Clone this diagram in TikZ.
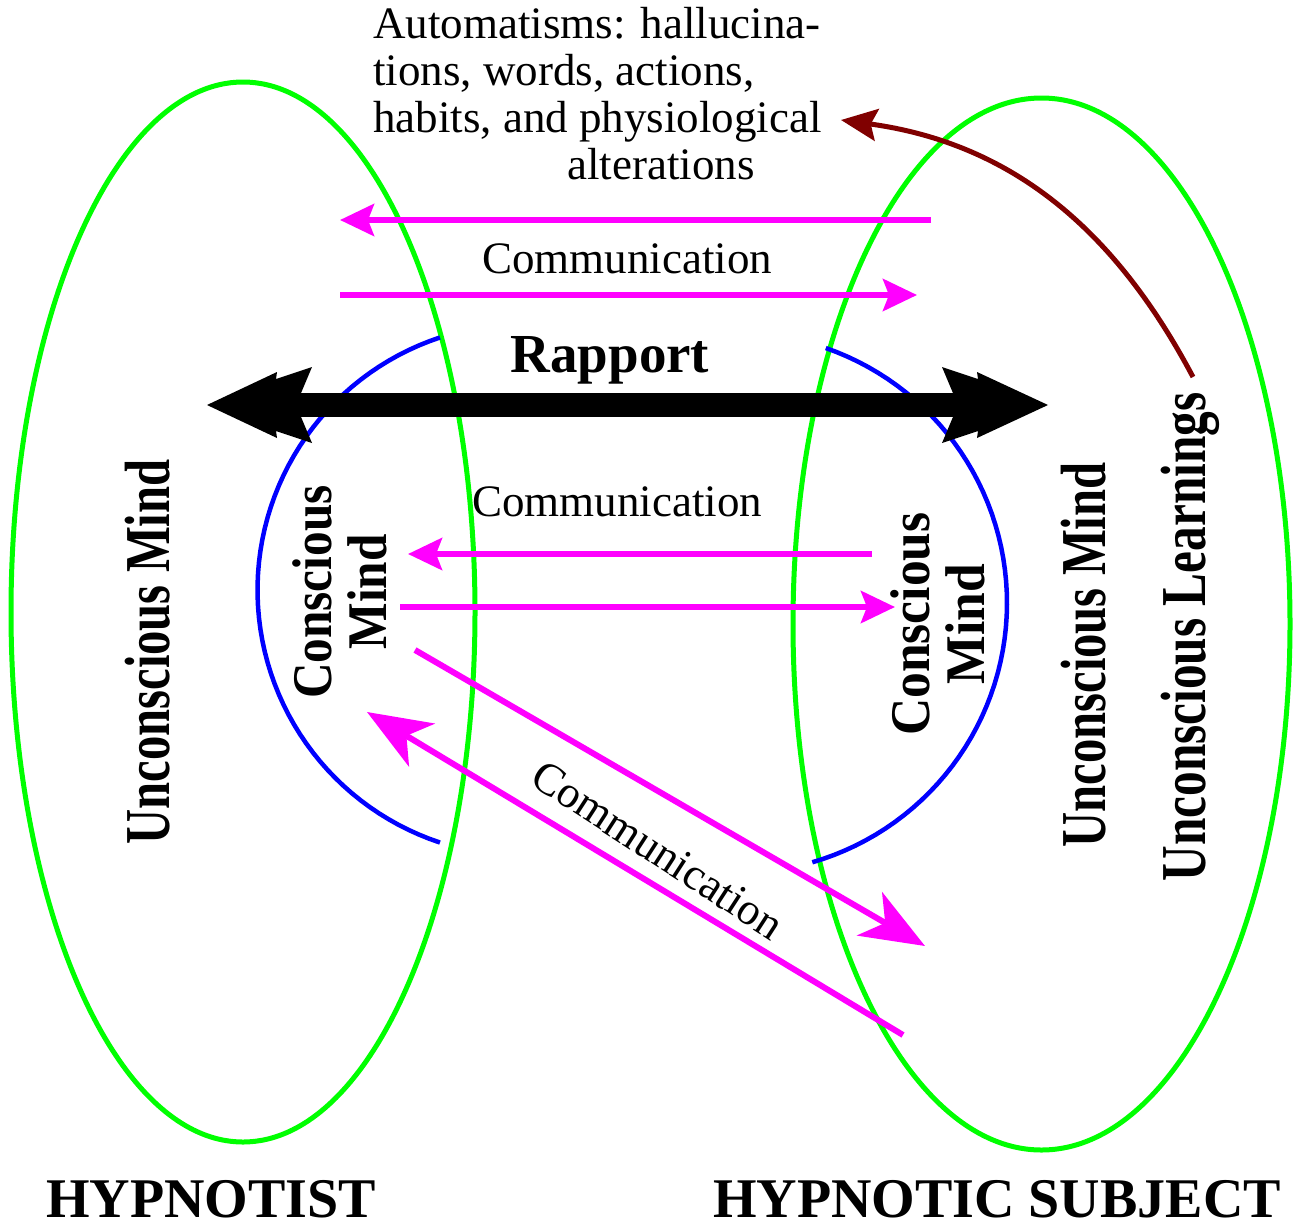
\documentclass[tikz,border=0pt]{standalone}
\usepackage{fontspec}
\setmainfont{Liberation Serif}
\usetikzlibrary{arrows.meta}
\definecolor{ringgreen}{HTML}{00FF00}
\definecolor{commmag}{HTML}{FF00FF}
\definecolor{arcblue}{HTML}{0000FF}
\definecolor{learnred}{HTML}{800000}
\begin{document}
\begin{tikzpicture}[x=1pt,y=-1pt,
  mindring/.style={draw=ringgreen,line width=5pt},
  conarc/.style={draw=arcblue,line width=4.5pt},
  comm/.style={draw=commmag,line width=6pt,-{Stealth[length=34pt,width=32pt,inset=6pt]}},
  bigcomm/.style={draw=commmag,line width=6pt,-{Stealth[length=64pt,width=50pt,inset=18pt]}},
  commtext/.style={font=\fontsize{45}{47}\selectfont, inner sep=0pt},
  boldlabel/.style={font=\fontsize{56}{56}\selectfont\bfseries, inner sep=0pt, anchor=base},
  sidetext/.style={font=\fontsize{64}{64}\selectfont\bfseries, inner sep=0pt, rotate=90, xscale=#1, anchor=base},
  sidetext/.default=0.76,
  consc/.style={font=\fontsize{56}{55}\selectfont\bfseries, inner sep=0pt, align=center, rotate=90, xscale=#1},
  consc/.default=0.88]
\path[use as bounding box] (0,0) rectangle (1298,1226);

% minds
\draw[mindring] (243,612) ellipse [x radius=232, y radius=530];
\draw[mindring] (1041.5,624) ellipse [x radius=248.5, y radius=526];

% conscious arcs
\draw[conarc] plot[domain=108.3:251.7, samples=60] ({523.5+266*cos(\x)},{590-266*sin(\x)});
\draw[conarc] plot[domain=-73.8:70.8, samples=60] ({737+270*cos(\x)},{603-270*sin(\x)});

% communication arrows
\coordinate (t1s) at (931,220); \coordinate (t1e) at (340,220);
\coordinate (t2s) at (340,295); \coordinate (t2e) at (917,295);
\coordinate (m1s) at (872,554); \coordinate (m1e) at (408,554);
\coordinate (m2s) at (400,607); \coordinate (m2e) at (895,607);
\coordinate (d1s) at (415,650); \coordinate (d1e) at (925,946);
\coordinate (d2s) at (903,1035); \coordinate (d2e) at (367,712);
\draw[comm] (t1s) -- (t1e);
\draw[comm] (t2s) -- (t2e);
\draw[comm] (m1s) -- (m1e);
\draw[comm] (m2s) -- (m2e);
\draw[bigcomm] (d1s) -- (d1e);
\draw[bigcomm] (d2s) -- (d2e);

% rapport double arrow
\coordinate (rapL) at (296,405); \coordinate (rapR) at (958,405);
\draw[line width=24pt] (rapL) -- (rapR);
\fill (207,405) -- (277,372) -- (276,379) -- (312,367) -- (296,405) -- (312,443) -- (276,431) -- (277,438) -- cycle;
\fill (1048,405) -- (977,372) -- (978,379) -- (942,367) -- (958,405) -- (942,443) -- (978,431) -- (977,438) -- cycle;

% unconscious learnings -> automatisms
\coordinate (lrnstart) at (1193,377);
\coordinate (auttip) at (841,120);
\draw[learnred, line width=5pt, -{Stealth[length=36pt,width=32pt,inset=6pt]}] (lrnstart) .. controls (1113,226) and (1009,143) .. (auttip);

% texts
\node[commtext, anchor=north west, align=left] (auto) at (373,7) {Automatisms: hallucina-\\tions, words, actions,\\habits, and physiological\\\hspace*{194pt}alterations};
\node[commtext, anchor=base] (c1) at (627,273) {Communication};
\node[commtext, anchor=base] (c2) at (617,516) {Communication};
\node[commtext, rotate=-33] (c3) at (658,850) {Communication};
\node[font=\fontsize{55}{55}\selectfont\bfseries, inner sep=0pt, anchor=base] (rap) at (610,372) {Rapport};
\node[boldlabel] (hyp) at (211,1217) {HYPNOTIST};
\node[boldlabel] (subj) at (997,1217) {HYPNOTIC SUBJECT};
\node[sidetext] (ucl) at (169,652) {Unconscious Mind};
\node[sidetext] (ucr) at (1105,655) {Unconscious Mind};
\node[sidetext=0.77] (ulr) at (1205,637) {Unconscious Learnings};
\node[consc] (cl) at (340,592) {Conscious\\Mind};
\node[consc=0.92] (cr) at (938,624) {Conscious\\Mind};
\end{tikzpicture}
\end{document}
